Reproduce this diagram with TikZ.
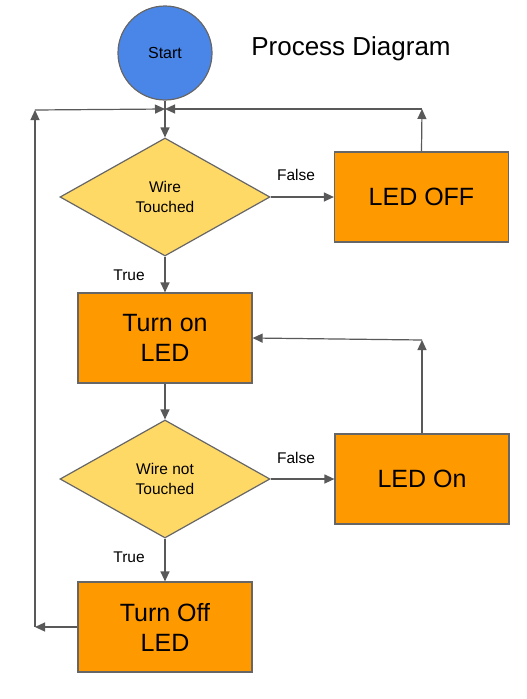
\documentclass[tikz,border=0pt]{standalone}
\usepackage{fontspec}
\setmainfont{Liberation Sans}
\usetikzlibrary{arrows.meta,shapes.geometric}
\definecolor{startblue}{HTML}{4A86E8}
\definecolor{diayellow}{HTML}{FFD966}
\definecolor{boxorange}{HTML}{FF9900}
\definecolor{edgegray}{HTML}{666666}
\definecolor{linegray}{HTML}{595959}
\tikzset{
  startnode/.style={circle,draw=edgegray,line width=1.2pt,fill=startblue,minimum size=94pt,inner sep=0pt,font=\fontsize{16}{19}\selectfont},
  decision/.style={diamond,draw=edgegray,line width=1.2pt,fill=diayellow,minimum width=210pt,minimum height=118pt,inner sep=0pt,aspect=1.78,align=center,font=\fontsize{15.5}{20}\selectfont},
  actbox/.style={rectangle,draw=edgegray,line width=1.2pt,fill=boxorange,minimum width=174pt,minimum height=90pt,inner sep=0pt,align=center,font=\fontsize{25}{30}\selectfont},
  conn/.style={draw=linegray,line width=1.2pt,-{Triangle[length=10pt,width=9pt]}},
  plain/.style={draw=linegray,line width=1.2pt},
  lbl/.style={font=\fontsize{15.5}{18}\selectfont,inner sep=0pt}
}
\begin{document}
\begin{tikzpicture}[x=1pt,y=-1pt]
\useasboundingbox[fill=white] (0,0) rectangle (527,699);
\node[startnode] (start) at (165,53) {Start};
\node[font=\fontsize{26}{30}\selectfont,inner sep=0pt] (title) at (351,49) {Process Diagram};
\node[decision] (d1) at (165,197) {Wire\\Touched};
\node[actbox] (ledoff) at (421.5,197) {LED OFF};
\node[actbox] (turnon) at (165,338) {Turn on\\LED};
\node[decision] (d2) at (165,479) {Wire not\\Touched};
\node[actbox] (ledon) at (422,479) {LED On};
\node[actbox] (turnoff) at (165,627) {Turn Off\\LED};
\coordinate (junc) at (165,109);
\coordinate (lbot) at (35,627);
\coordinate (ltop) at (35,110);
\coordinate (rtop) at (422,109);
\coordinate (rmid) at (422,340);
\node[lbl] (f1) at (296,175) {False};
\node[lbl] (t1) at (129,275) {True};
\node[lbl] (f2) at (296,458) {False};
\node[lbl] (t2) at (129,557) {True};
\draw[conn] (start.south) -- (d1.north);
\draw[conn] (d1.east) -- (ledoff.west);
\draw[conn] (d1.south) -- (turnon.north);
\draw[conn] (turnon.south) -- (d2.north);
\draw[conn] (d2.east) -- (ledon.west);
\draw[conn] (d2.south) -- (turnoff.north);
\draw[conn] (turnoff.west) -- (lbot);
\draw[conn] (lbot) -- (ltop);
\draw[conn] (ltop) -- (junc);
\draw[conn] (ledoff.north) -- (rtop);
\draw[conn] (rtop) -- (junc);
\draw[conn] (ledon.north) -- (rmid);
\draw[conn] (rmid) -- (turnon.east);
\end{tikzpicture}
\end{document}
